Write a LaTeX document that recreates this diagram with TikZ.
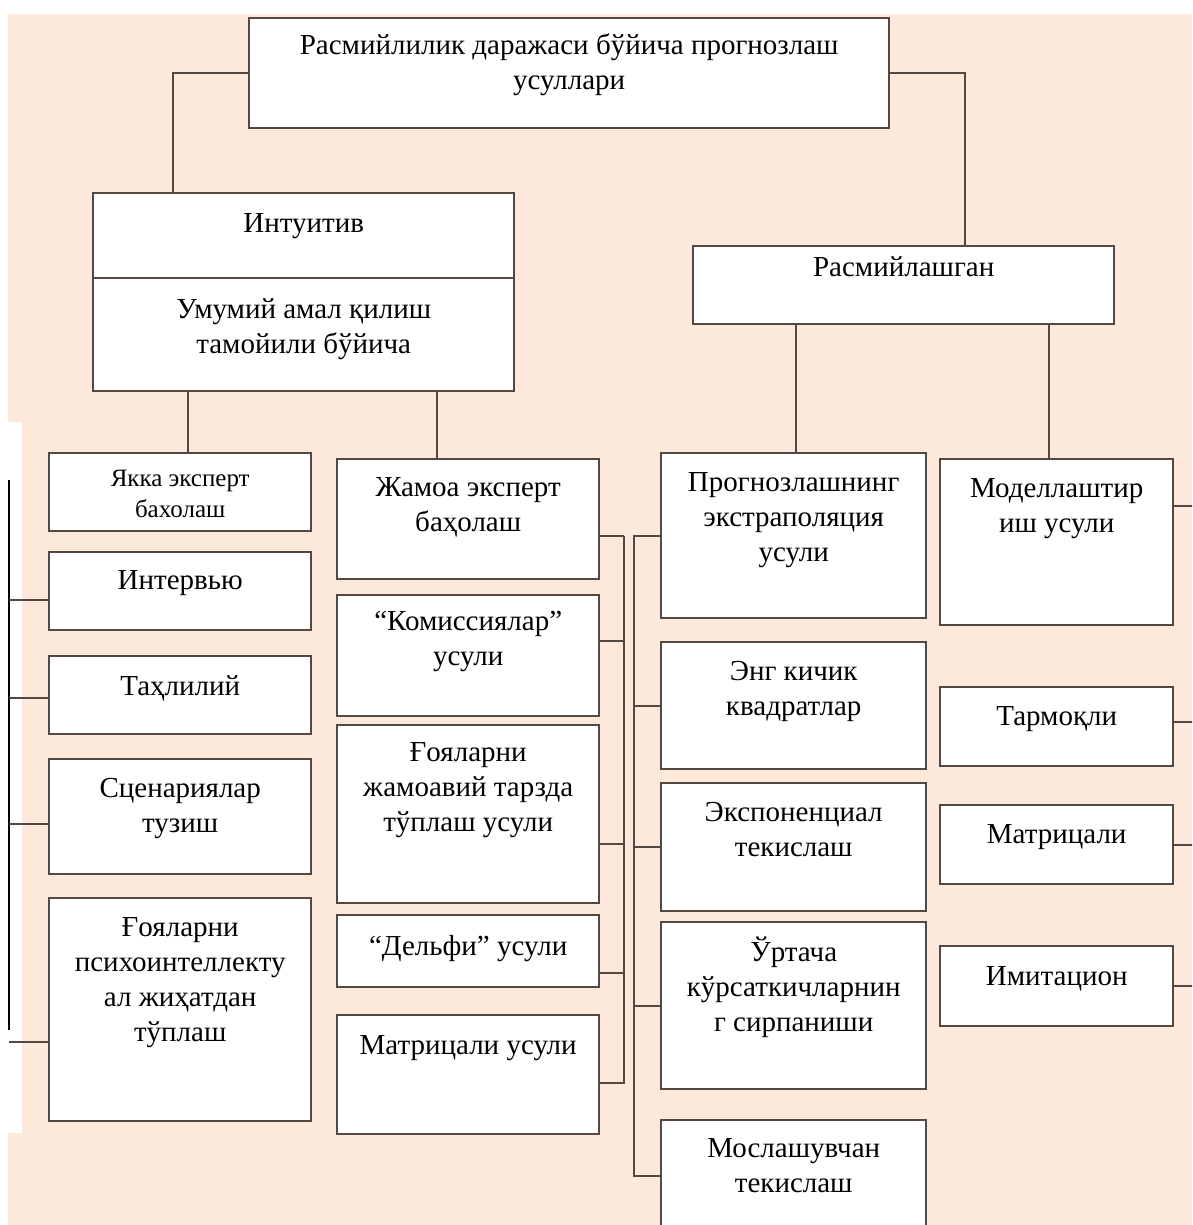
\documentclass[tikz,border=0pt]{standalone}
\usepackage{fontspec}
\setmainfont{Liberation Serif}
\usetikzlibrary{positioning}
\definecolor{peach}{RGB}{252,233,219}
\definecolor{linec}{RGB}{84,72,66}
\newcommand{\boxfont}{\fontsize{29}{35}\selectfont}
\newcommand{\smallboxfont}{\fontsize{25}{31}\selectfont}

\begin{document}
\begin{tikzpicture}[x=1pt, y=-1pt]
	\tikzstyle{box} = [draw=linec, line width=2.4pt, fill=white, inner sep=0pt, anchor=north west]
	\tikzstyle{txt} = [inner sep=0pt, align=center, font=\boxfont, anchor=north]
	\tikzstyle{link} = [draw=linec, line width=2pt]
	\clip (0,0) rectangle (1192,1225);
	\fill[peach] (8,14) rectangle (1192,1225);
	\fill[white] (8,422) rectangle (22,1133);

	\node[box, minimum width=640pt, minimum height=110pt] (root) at (248,17) {}; \node[txt, below=17pt of root.north] (root-t) {Расмийлилик даражаси бўйича прогнозлаш\\усуллари};
	\node[box, minimum width=421pt, minimum height=198pt] (intu) at (92,192) {}; \node[txt, below=21pt of intu.north] (intu-t) {Интуитив};
	\node[txt, below=106pt of intu.north] (intu-b) {Умумий амал қилиш\\тамойили бўйича};
	\node[box, minimum width=421pt, minimum height=78pt] (ras) at (692,245) {}; \node[txt, below=11pt of ras.north] (ras-t) {Расмийлашган};

	\node[box, minimum width=262pt, minimum height=78pt] (yakka) at (48,452) {}; \node[txt, font=\smallboxfont, below=18pt of yakka.north] (yakka-t) {Якка эксперт\\бахолаш};
	\node[box, minimum width=262pt, minimum height=78pt] (intv) at (48,551) {}; \node[txt, below=19pt of intv.north] (intv-t) {Интервью};
	\node[box, minimum width=262pt, minimum height=78pt] (tahl) at (48,655) {}; \node[txt, below=20pt of tahl.north] (tahl-t) {Таҳлилий};
	\node[box, minimum width=262pt, minimum height=115pt] (scen) at (48,758) {}; \node[txt, below=20pt of scen.north] (scen-t) {Сценариялар\\тузиш};
	\node[box, minimum width=262pt, minimum height=223pt] (goya) at (48,897) {}; \node[txt, below=20pt of goya.north] (goya-t) {Ғояларни\\психоинтеллекту\\ал жиҳатдан\\тўплаш};

	\node[box, minimum width=262pt, minimum height=120pt] (jam) at (336,458) {}; \node[txt, below=19pt of jam.north] (jam-t) {Жамоа эксперт\\баҳолаш};
	\node[box, minimum width=262pt, minimum height=121pt] (kom) at (336,594) {}; \node[txt, below=17pt of kom.north] (kom-t) {“Комиссиялар”\\усули};
	\node[box, minimum width=262pt, minimum height=178pt] (goyj) at (336,724) {}; \node[txt, below=18pt of goyj.north] (goyj-t) {Ғояларни\\жамоавий тарзда\\тўплаш усули};
	\node[box, minimum width=262pt, minimum height=72pt] (delf) at (336,914) {}; \node[txt, below=21pt of delf.north] (delf-t) {“Дельфи” усули};
	\node[box, minimum width=262pt, minimum height=119pt] (matu) at (336,1014) {}; \node[txt, below=21pt of matu.north] (matu-t) {Матрицали усули};

	\node[box, minimum width=265pt, minimum height=165pt] (prog) at (660,452) {}; \node[txt, below=20pt of prog.north] (prog-t) {Прогнозлашнинг\\экстраполяция\\усули};
	\node[box, minimum width=265pt, minimum height=127pt] (eng) at (660,641) {}; \node[txt, below=20pt of eng.north] (eng-t) {Энг кичик\\квадратлар};
	\node[box, minimum width=265pt, minimum height=128pt] (exp) at (660,782) {}; \node[txt, below=20pt of exp.north] (exp-t) {Экспоненциал\\текислаш};
	\node[box, minimum width=265pt, minimum height=167pt] (urt) at (660,921) {}; \node[txt, below=16pt of urt.north] (urt-t) {Ўртача\\кўрсаткичларнин\\г сирпаниши};
	\node[box, minimum width=265pt, minimum height=112pt] (mosl) at (660,1119) {}; \node[txt, below=19pt of mosl.north] (mosl-t) {Мослашувчан\\текислаш};

	\node[box, minimum width=233pt, minimum height=166pt] (model) at (939,458) {}; \node[txt, below=20pt of model.north] (model-t) {Моделлаштир\\иш усули};
	\node[box, minimum width=233pt, minimum height=79pt] (tarm) at (939,686) {}; \node[txt, below=20pt of tarm.north] (tarm-t) {Тармоқли};
	\node[box, minimum width=233pt, minimum height=79pt] (matr) at (939,804) {}; \node[txt, below=20pt of matr.north] (matr-t) {Матрицали};
	\node[box, minimum width=233pt, minimum height=80pt] (imit) at (939,945) {}; \node[txt, below=21pt of imit.north] (imit-t) {Имитацион};

	\draw[link, line width=2.4pt] ([yshift=14pt]intu.west) -- ([yshift=14pt]intu.east);
	\draw[link] (root.west) -| ([xshift=81pt]intu.north west);
	\draw[link] (root.east) -| ([xshift=273pt]ras.north west);
	\draw[link] ([xshift=96pt]intu.south west) -- ([xshift=96pt]intu.south west |- yakka.north);
	\draw[link] ([xshift=345pt]intu.south west) -- ([xshift=345pt]intu.south west |- jam.north);
	\draw[link] ([xshift=104pt]ras.south west) -- ([xshift=104pt]ras.south west |- prog.north);
	\draw[link] ([xshift=357pt]ras.south west) -- ([xshift=357pt]ras.south west |- model.north);

	\coordinate (lbusA) at (9,480); \coordinate (lbusB) at (9,1030);
	\draw[black, line width=2pt] (lbusA) -- (lbusB);
	\draw[link] ([yshift=-9pt]intv.west) -- ++(-39,0); \draw[link] ([yshift=-3pt]tahl.west) -- ++(-39,0);
	\draw[link] ([yshift=-7.5pt]scen.west) -- ++(-39,0); \draw[link] ([yshift=-32.5pt]goya.west) -- ++(-39,0);

	\draw[link] ([yshift=-17pt]jam.east) -- ++(24,0) coordinate (busA);
	\draw[link] ([yshift=14.5pt]kom.east) -- ++(24,0); \draw[link] ([yshift=-30pt]goyj.east) -- ++(24,0);
	\draw[link] ([yshift=-22pt]delf.east) -- ++(24,0);
	\draw[link] ([yshift=-8.5pt]matu.east) -- ++(24,0) -- (busA);

	\draw[link] (prog.west) -- ++(-26,0) |- (mosl.west);
	\foreach \n in {eng, exp, urt} \draw[link] (\n.west) -- ++(-26,0);

	\draw[link] ([yshift=36pt]model.east) -- ++(30,0); \draw[link] ([yshift=5pt]tarm.east) -- ++(30,0);
	\foreach \n in {matr, imit} \draw[link] (\n.east) -- ++(30,0);
\end{tikzpicture}
\end{document}
